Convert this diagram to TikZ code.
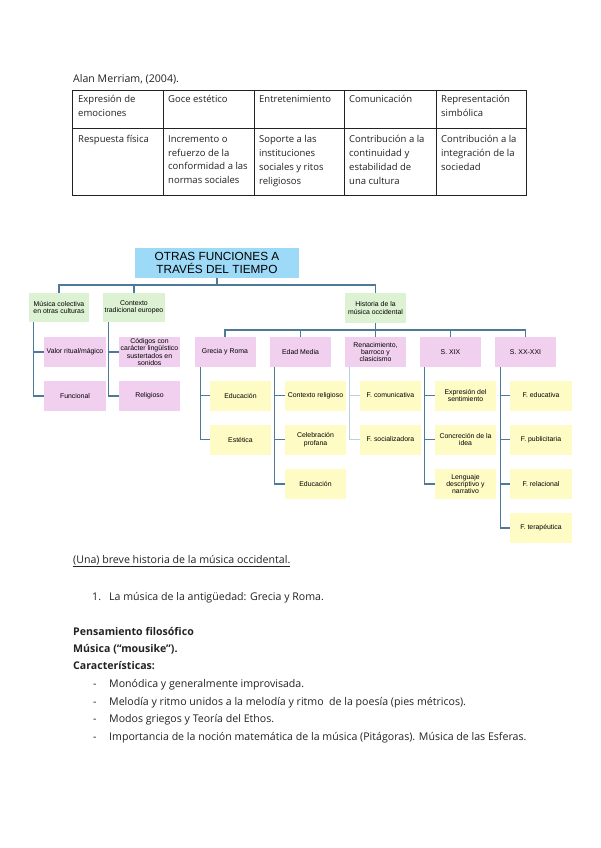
\documentclass[tikz,border=0pt]{standalone}
\usepackage{fontspec}
\setmainfont{Open Sans}
\newfontfamily\arial{Liberation Sans}
\definecolor{tblue}{HTML}{9DDAF7}
\definecolor{tgreen}{HTML}{DCF2D2}
\definecolor{tpink}{HTML}{F0D0EE}
\definecolor{tyellow}{HTML}{FFFBC4}
\definecolor{conn}{HTML}{4C7A98}
\definecolor{connlight}{HTML}{B8D0E0}
\definecolor{ink}{HTML}{222222}
\tikzset{
  cell/.style={anchor=north west,inner sep=0pt,align=left,font=\fontsize{9.5}{13.7}\selectfont,text=ink},
  bx/.style={minimum width=61pt,minimum height=30pt,inner sep=0pt,align=center,font=\arial\fontsize{6.9}{7.4}\selectfont,text=black},
  gbox/.style={bx,fill=tgreen},
  pbox/.style={bx,fill=tpink},
  ybox/.style={bx,fill=tyellow},
  cn/.style={draw=conn,line width=1.2pt},
  cnl/.style={draw=connlight,line width=1pt},
  body/.style={anchor=base west,inner sep=0pt,font=\fontsize{10.6}{12}\selectfont,text=ink},
  bodyb/.style={body,font=\bfseries\fontsize{10.6}{12}\selectfont},
}
\begin{document}
\begin{tikzpicture}[x=1pt,y=-1pt]
\useasboundingbox[fill=white] (0,0) rectangle (600,848);
% ---------- caption and table
\node[body] (cap) at (73,83) {Alan Merriam, (2004).};
\draw[ink,line width=0.9pt] (72.7,90) rectangle (526,195);
\draw[ink,line width=0.9pt] (72.7,128) -- (526,128);
\foreach \x in {163,254,344,436} \draw[ink,line width=0.9pt] (\x,90) -- (\x,195);
\node[cell] (c11) at (78,95.5) {Expresión de\\emociones};
\node[cell] (c12) at (168,95.5) {Goce estético};
\node[cell] (c13) at (259,95.5) {Entretenimiento};
\node[cell] (c14) at (349,95.5) {Comunicación};
\node[cell] (c15) at (441,95.5) {Representación\\simbólica};
\node[cell] (c21) at (78,135.5) {Respuesta física};
\node[cell] (c22) at (168,135.5) {Incremento o\\refuerzo de la\\conformidad a las\\normas sociales};
\node[cell] (c23) at (259,135.5) {Soporte a las\\instituciones\\sociales y ritos\\religiosos};
\node[cell] (c24) at (349,135.5) {Contribución a la\\continuidad y\\estabilidad de\\una cultura};
\node[cell] (c25) at (441,135.5) {Contribución a la\\integración de la\\sociedad};
% ---------- chart
\node[bx,fill=tblue,minimum width=164pt,font=\arial\fontsize{11.8}{12.5}\selectfont] (title) at (217,263) {OTRAS FUNCIONES A\\TRAVÉS DEL TIEMPO};
\node[gbox,minimum width=60pt,minimum height=29pt] (g1) at (59,307.5) {Música colectiva\\en otras culturas};
\node[gbox,minimum width=62pt,minimum height=29pt] (g2) at (134,307.5) {Contexto\\tradicional europeo};
\node[gbox] (hist) at (375.5,308) {Historia de la\\música occidental};
\node[pbox,minimum width=62pt] (valor) at (75,352) {Valor ritual/mágico};
\node[pbox,minimum width=62pt] (func) at (75,396) {Funcional};
\node[pbox] (cod) at (149.5,352) {Códigos con\\carácter lingüístico\\sustertados en\\sonidos};
\node[pbox] (rel) at (149.5,396) {Religioso};
\node[pbox] (gre) at (225,352) {Grecia y Roma};
\node[pbox] (edad) at (300.5,352) {Edad Media};
\node[pbox] (ren) at (375.5,352) {Renacimiento,\\barroco y\\clasicismo};
\node[pbox] (xix) at (450.5,352) {S. XIX};
\node[pbox] (xx) at (525.5,352) {S. XX-XXI};
\node[ybox] (gre1) at (240.5,395.5) {Educación};
\node[ybox] (gre2) at (240.5,439.5) {Estética};
\node[ybox] (ed1) at (315.5,395.5) {Contexto religioso};
\node[ybox] (ed2) at (315.5,439.5) {Celebración\\profana};
\node[ybox] (ed3) at (315.5,484) {Educación};
\node[ybox] (re1) at (390.5,395.5) {F. comunicativa};
\node[ybox] (re2) at (390.5,439.5) {F. socializadora};
\node[ybox] (xi1) at (465.5,395.5) {Expresión del\\sentimiento};
\node[ybox] (xi2) at (465.5,439.5) {Concreción de la\\idea};
\node[ybox] (xi3) at (465.5,484) {Lenguaje\\descriptivo y\\narrativo};
\node[ybox,minimum width=62pt] (xx1) at (541,395.5) {F. educativa};
\node[ybox,minimum width=62pt] (xx2) at (541,439.5) {F. publicitaria};
\node[ybox,minimum width=62pt] (xx3) at (541,484) {F. relacional};
\node[ybox,minimum width=62pt] (xx4) at (541,528) {F. terapéutica};
% connectors
\coordinate (b1) at (0,285);
\coordinate (b2) at (0,330);
\draw[cn] (title.south) -- (title.south|-b1);
\draw[cn] (g1.north) -- (g1.north|-b1) -- (hist.north|-b1) -- (hist.north);
\draw[cn] (g2.north) -- (g2.north|-b1);
\draw[cn] (hist.south) -- (hist.south|-b2);
\draw[cn] (gre.north) -- (gre.north|-b2) -- (xx.north|-b2) -- (xx.north);
\draw[cn] (edad.north) -- (edad.north|-b2);
\draw[cn] (ren.north) -- (ren.north|-b2);
\draw[cn] (xix.north) -- (xix.north|-b2);
\draw[cn] ([xshift=5pt]g1.south west) |- (valor.west);
\draw[cn] ([xshift=5pt]g1.south west) |- (func.west);
\draw[cn] ([xshift=6pt]g2.south west) |- (cod.west);
\draw[cn] ([xshift=6pt]g2.south west) |- (rel.west);
\draw[cn] ([xshift=6pt]gre.south west) |- (gre1.west);
\draw[cn] ([xshift=6pt]gre.south west) |- (gre2.west);
\draw[cn] ([xshift=5pt]edad.south west) |- (ed1.west);
\draw[cn] ([xshift=5pt]edad.south west) |- (ed2.west);
\draw[cn] ([xshift=5pt]edad.south west) |- (ed3.west);
\draw[cnl] ([xshift=5pt]ren.south west) |- (re1.west);
\draw[cnl] ([xshift=5pt]ren.south west) |- (re2.west);
\draw[cn] ([xshift=5pt]xix.south west) |- (xi1.west);
\draw[cn] ([xshift=5pt]xix.south west) |- (xi2.west);
\draw[cn] ([xshift=5pt]xix.south west) |- (xi3.west);
\draw[cn] ([xshift=6pt]xx.south west) |- (xx1.west);
\draw[cn] ([xshift=6pt]xx.south west) |- (xx2.west);
\draw[cn] ([xshift=6pt]xx.south west) |- (xx3.west);
\draw[cn] ([xshift=6pt]xx.south west) |- (xx4.west);
% ---------- text below
\node[body] (h1) at (73,563) {\underline{(Una) breve historia de la música occidental.}};
\node[body] (n1) at (92,600) {1.};
\node[body] (t1) at (109,600) {La música de la antigüedad: Grecia y Roma.};
\node[bodyb] (p1) at (73,635) {Pensamiento filosófico};
\node[bodyb] (p2) at (73,652.5) {Música (“mousike”).};
\node[bodyb] (p3) at (73,669.5) {Características:};
\node[body] (d1) at (93,687) {-};
\node[body] (l1) at (109,687) {Monódica y generalmente improvisada.};
\node[body] (d2) at (93,705) {-};
\node[body] (l2) at (109,705) {Melodía y ritmo unidos a la melodía y ritmo\ \ de la poesía (pies métricos).};
\node[body] (d3) at (93,722.5) {-};
\node[body] (l3) at (109,722.5) {Modos griegos y Teoría del Ethos.};
\node[body] (d4) at (93,740) {-};
\node[body] (l4) at (109,740) {Importancia de la noción matemática de la música (Pitágoras). Música de las Esferas.};
\end{tikzpicture}
\end{document}
